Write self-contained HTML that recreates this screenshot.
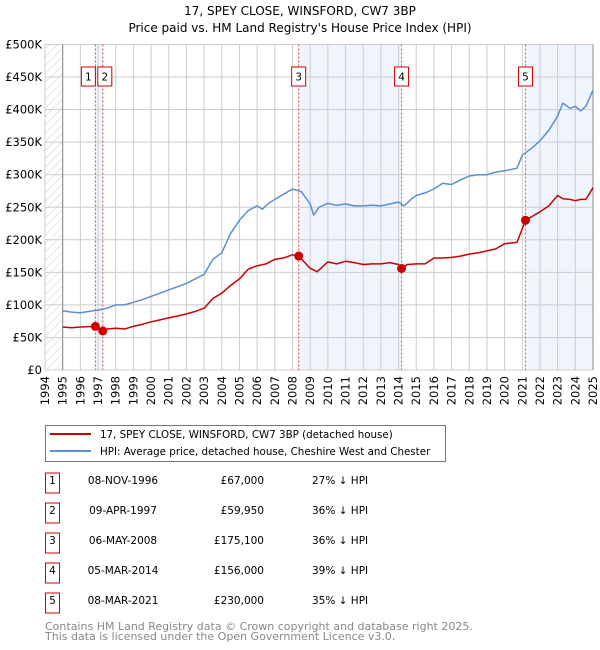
<!DOCTYPE html>
<html><head><meta charset="utf-8"><style>
body{margin:0;background:#fff;font-family:"Liberation Sans","DejaVu Sans",sans-serif;}
svg{display:block}
</style></head><body>
<svg id="c" width="600" height="650" xmlns="http://www.w3.org/2000/svg" font-family="DejaVu Sans, Liberation Sans, sans-serif">
<defs><pattern id="hatch" width="6" height="6" patternUnits="userSpaceOnUse" patternTransform="rotate(45)"><line x1="0" y1="0" x2="0" y2="6" stroke="#ccc" stroke-width="1"/></pattern></defs>
<text x="300" y="15" text-anchor="middle" font-size="12" fill="#000">17, SPEY CLOSE, WINSFORD, CW7 3BP</text>
<text x="300" y="32" text-anchor="middle" font-size="12" fill="#000">Price paid vs. HM Land Registry's House Price Index (HPI)</text>
<g id="plot"></g>
<g>
<rect x="45.5" y="425.5" width="400" height="36" fill="#fff" stroke="#777"/>
<line x1="50" y1="434" x2="91" y2="434" stroke="#cc0000" stroke-width="2"/>
<text x="100" y="438" font-size="10.3">17, SPEY CLOSE, WINSFORD, CW7 3BP (detached house)</text>
<line x1="50" y1="451" x2="91" y2="451" stroke="#5b8fd0" stroke-width="2"/>
<text x="100" y="455" font-size="10.3">HPI: Average price, detached house, Cheshire West and Chester</text>
</g>
<g id="table" font-size="10.5"></g>
<text x="45" y="630" font-size="11" fill="#888">Contains HM Land Registry data © Crown copyright and database right 2025.</text>
<text x="45" y="640" font-size="11" fill="#888">This data is licensed under the Open Government Licence v3.0.</text>
</svg>
<script>
const hpiYears=[1995,1995.5,1996,1996.5,1997,1997.5,1998,1998.5,1999,1999.5,2000,2000.5,2001,2001.5,2002,2002.5,2003,2003.5,2004,2004.5,2005,2005.5,2006,2006.3,2006.6,2007,2007.5,2008,2008.5,2009,2009.2,2009.5,2010,2010.5,2011,2011.5,2012,2012.5,2013,2013.5,2014,2014.3,2014.7,2015,2015.5,2016,2016.5,2017,2017.5,2018,2018.5,2019,2019.5,2020,2020.7,2021,2021.5,2022,2022.5,2023,2023.3,2023.7,2024,2024.3,2024.6,2025];
const hpiValues=[91,89,88,90,92,95,100,100,104,108,113,118,123,128,133,140,147,170,180,210,230,245,252,247,255,262,270,278,274,255,238,250,256,253,255,252,252,253,252,255,258,252,262,268,272,278,287,285,292,298,300,300,304,306,310,330,340,352,368,390,410,402,405,398,405,430];
const ppYears=[1995,1995.5,1996,1996.85,1997.27,1997.5,1998,1998.5,1999,1999.5,2000,2000.5,2001,2001.5,2002,2002.5,2003,2003.5,2004,2004.5,2005,2005.5,2006,2006.5,2007,2007.5,2008,2008.35,2009,2009.4,2010,2010.5,2011,2011.5,2012,2012.5,2013,2013.5,2014,2014.17,2014.5,2015,2015.5,2016,2016.5,2017,2017.5,2018,2018.5,2019,2019.5,2020,2020.7,2021.18,2021.5,2022,2022.5,2023,2023.3,2023.7,2024,2024.3,2024.6,2025];
const ppValues=[66,65,66,67,60,63,64,63,67,70,74,77,80,83,86,90,95,110,118,130,140,155,160,163,170,172,177,175,156,151,166,163,167,165,162,163,163,165,162,156,162,163,163,172,172,173,175,178,180,183,186,194,196,230,235,243,252,268,263,262,260,262,262,280];
const saleLabels=["1","2","3","4","5"];
const saleYears=[1996.85,1997.27,2008.35,2014.17,2021.18];
const salePrices=[67000,59950,175100,156000,230000];
const saleDates=["08-NOV-1996","09-APR-1997","06-MAY-2008","05-MAR-2014","08-MAR-2021"];
const salePriceText=["£67,000","£59,950","£175,100","£156,000","£230,000"];
const saleHpiText=["27% ↓ HPI","36% ↓ HPI","36% ↓ HPI","39% ↓ HPI","35% ↓ HPI"];
const yTicks=[0,50,100,150,200,250,300,350,400,450,500];
const yTickLabels=["£0","£50K","£100K","£150K","£200K","£250K","£300K","£350K","£400K","£450K","£500K"];
const xTicks=[1994,1995,1996,1997,1998,1999,2000,2001,2002,2003,2004,2005,2006,2007,2008,2009,2010,2011,2012,2013,2014,2015,2016,2017,2018,2019,2020,2021,2022,2023,2024,2025];

const X0=45,X1=593,Y0=370,Y1=44.5,XMIN=1994,XMAX=2025,YMAX=500;
const sx=v=>X0+(v-XMIN)/(XMAX-XMIN)*(X1-X0);
const sy=v=>Y0-v/YMAX*(Y0-Y1);
const NS="http://www.w3.org/2000/svg";
const plot=document.getElementById('plot');
function mk(tag,attrs,parent){const e=document.createElementNS(NS,tag);for(const k in attrs)e.setAttribute(k,attrs[k]);(parent||plot).appendChild(e);return e;}

let e=mk('rect',{x:X0,y:Y1,width:X1-X0,height:Y0-Y1,fill:'#fff'});


e=mk('rect',{x:sx(1994),y:Y1,width:sx(1995)-sx(1994),height:Y0-Y1,fill:'url(#hatch)'});


const bands=[[saleYears[0],saleYears[1]],[saleYears[2],saleYears[3]],[saleYears[4],XMAX]];
bands.forEach(b=>{
  const r=mk('rect',{x:sx(b[0]),y:Y1,width:sx(b[1])-sx(b[0]),height:Y0-Y1,fill:'#f0f4fc'});
  
  
});
xTicks.forEach(t=>{
  const l=mk('line',{x1:sx(t),x2:sx(t),y1:Y1,y2:Y0,stroke:'#ccc','stroke-width':1});
  
  
  const tx=mk('text',{x:0,y:0,'font-size':11.5,'text-anchor':'end',transform:`translate(${sx(t)+4},${Y0+6}) rotate(-90)`});
  tx.textContent=t;
  
  
});
yTicks.forEach((t,i)=>{
  const l=mk('line',{x1:X0,x2:X1,y1:sy(t),y2:sy(t),stroke:'#ccc','stroke-width':1});
  
  
  const tx=mk('text',{x:X0-3,y:sy(t)+4,'font-size':11.5,'text-anchor':'end'});
  tx.textContent=yTickLabels[i];
  
  
});
e=mk('line',{x1:sx(1995),x2:sx(1995),y1:Y1,y2:Y0,stroke:'#888'});


e=mk('line',{x1:X1,x2:X1,y1:Y1,y2:Y0,stroke:'#888'});


saleYears.forEach((y,i)=>{
  const l=mk('line',{x1:sx(y),x2:sx(y),y1:Y1,y2:Y0,stroke:'#e05050','stroke-dasharray':'2,2'});
  
  
  const off=i===0?-5:(i===1?2:0);
  const bx=sx(y)-7+off-(i===0?2:0);
  const r=mk('rect',{x:bx,y:67,width:14,height:19,fill:'#fff',stroke:'#cc0000'});
  
  
  const t=mk('text',{x:bx+7,y:80.5,'font-size':10.5,'text-anchor':'middle'});
  t.textContent=saleLabels[i];
  
  
});
function path(xs,vs,col,name){
  const d=xs.map((x,i)=>(i?'L':'M')+sx(x).toFixed(1)+','+sy(vs[i]).toFixed(1)).join('');
  const p=mk('path',{d,fill:'none',stroke:col,'stroke-width':1.5,'stroke-linejoin':'round'});
  
  
}
path(hpiYears,hpiValues,'#5b8fd0','hpi-line');
path(ppYears,ppValues,'#cc0000','price-paid-line');
saleYears.forEach((y,i)=>{
  const c=mk('circle',{cx:sx(y),cy:sy(salePrices[i]/1000),r:4.5,fill:'#cc0000'});
  
  
});
const tbl=document.getElementById('table');
saleLabels.forEach((lab,i)=>{
  const cy=483+i*30;
  const r=mk('rect',{x:45.5,y:cy-10,width:14,height:20,fill:'#fff',stroke:'#cc0000'},tbl);
  
  
  let t=mk('text',{x:52.5,y:cy+1,'text-anchor':'middle'},tbl);t.textContent=lab;
  
  
  t=mk('text',{x:123,y:cy+1,'text-anchor':'middle'},tbl);t.textContent=saleDates[i];
  
  
  t=mk('text',{x:264,y:cy+1,'text-anchor':'end'},tbl);t.textContent=salePriceText[i];
  
  
  t=mk('text',{x:312,y:cy+1},tbl);t.textContent=saleHpiText[i];
  
  
});
</script>
</body></html>
